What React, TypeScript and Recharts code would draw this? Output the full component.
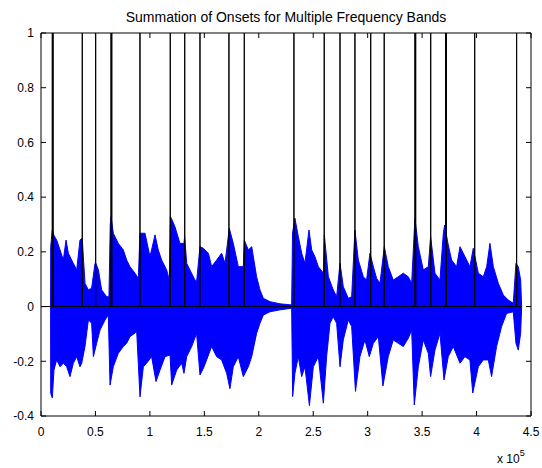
import React from 'react';
import { ComposedChart, Area, Line, XAxis, YAxis } from 'recharts';

const title = 'Summation of Onsets for Multiple Frequency Bands';
const xTicks = [0, 50000, 100000, 150000, 200000, 250000, 300000, 350000, 400000, 450000];
const yTicks = [-0.4, -0.2, 0, 0.2, 0.4, 0.6, 0.8, 1];

// onset sample positions (lines from 0 to 1)
const onsets = [10400, 11100, 37900, 50200, 64300, 65000, 90900, 118700, 132000, 146000, 172600, 186700,
  232300, 260100, 274600, 288300, 302800, 315200, 343400, 344100, 357900, 371600, 372300, 398300, 436800];
const signalEnd = 441400;

// upper envelope of the waveform [sample, amplitude]
const upperEnvelope: [number, number][] = [
  [8800, 0], [8900, 0.219], [10400, 0.28], [11900, 0.26], [14400, 0.243], [17500, 0.207], [20500, 0.17],
  [23000, 0.243], [25100, 0.195], [29700, 0.158], [32800, 0.134], [35800, 0.243], [37900, 0.25], [38900, 0.182],
  [40400, 0.085], [43500, 0.061], [46500, 0.067], [49600, 0.158], [50200, 0.16], [52700, 0.134], [55700, 0.061],
  [60300, 0.036], [62400, 0.036], [63600, 0.3], [64300, 0.329], [66400, 0.268], [71000, 0.231], [75600, 0.207],
  [78700, 0.17], [81700, 0.146], [86300, 0.122], [89400, 0.103], [90900, 0.268], [95500, 0.268], [100100, 0.182],
  [104700, 0.262], [107700, 0.207], [110800, 0.17], [115400, 0.134], [117800, 0.097], [118800, 0.329], [120000, 0.32],
  [123000, 0.292], [127600, 0.231], [131300, 0.231], [131900, 0.256], [133800, 0.158], [136800, 0.134], [141400, 0.097],
  [142900, 0.091], [146000, 0.219], [149100, 0.213], [153700, 0.195], [156700, 0.146], [161300, 0.17], [165900, 0.195],
  [169000, 0.158], [172900, 0.286], [176600, 0.231], [181200, 0.146], [185800, 0.146], [186700, 0.243], [190400, 0.207],
  [193500, 0.219], [198000, 0.109], [201100, 0.061], [204200, 0.03], [210300, 0.018], [219500, 0.01], [230200, 0.006],
  [231000, 0.268], [233200, 0.323], [236300, 0.256], [239400, 0.195], [242400, 0.158], [246100, 0.28], [248600, 0.207],
  [251600, 0.182], [254700, 0.146], [259300, 0.122], [260200, 0.262], [263900, 0.109], [268400, 0.061], [271500, 0.036],
  [274600, 0.158], [277600, 0.073], [282200, 0.03], [285300, 0.036], [288300, 0.28], [291400, 0.17], [296000, 0.109],
  [299000, 0.097], [302100, 0.195], [305200, 0.146], [308200, 0.103], [311300, 0.085], [315300, 0.219], [318900, 0.146],
  [323500, 0.097], [328100, 0.109], [332700, 0.122], [337300, 0.109], [340400, 0.085], [343400, 0.323], [346500, 0.219],
  [351100, 0.134], [355700, 0.146], [357800, 0.256], [361800, 0.122], [366400, 0.097], [369500, 0.268], [370700, 0.298],
  [374000, 0.225], [377100, 0.17], [381700, 0.146], [384800, 0.219], [387800, 0.195], [390900, 0.17], [393900, 0.146],
  [397000, 0.213], [401600, 0.122], [406200, 0.109], [409300, 0.146], [412300, 0.231], [415400, 0.146], [420000, 0.085],
  [424600, 0.042], [429100, 0.024], [433700, 0.012], [436200, 0.158], [438300, 0.146], [440500, 0.097], [441400, 0],
];

// lower envelope of the waveform [sample, amplitude]
const lowerEnvelope: [number, number][] = [
  [8800, 0], [8900, -0.317], [10400, -0.334], [11900, -0.232], [14400, -0.195], [17500, -0.22], [20500, -0.207],
  [23600, -0.22], [26600, -0.256], [29700, -0.207], [32800, -0.183], [35800, -0.22], [37400, -0.207], [40400, -0.146],
  [43500, -0.049], [46500, -0.061], [48100, -0.183], [51100, -0.134], [54200, -0.086], [58800, -0.049], [61800, -0.031],
  [63400, -0.287], [66400, -0.22], [71000, -0.171], [75600, -0.146], [78700, -0.134], [81700, -0.11], [87900, -0.092],
  [90900, -0.33], [94000, -0.22], [97000, -0.207], [101600, -0.183], [105600, -0.274], [109300, -0.232], [113900, -0.183],
  [118500, -0.177], [120000, -0.287], [124600, -0.232], [129200, -0.207], [131300, -0.244], [133800, -0.183], [138400, -0.146],
  [142900, -0.098], [146000, -0.25], [149100, -0.226], [152100, -0.195], [156700, -0.146], [161300, -0.183], [165900, -0.195],
  [170500, -0.244], [173500, -0.3], [176600, -0.22], [181200, -0.183], [185800, -0.256], [190400, -0.22], [193500, -0.183],
  [198000, -0.098], [201100, -0.061], [204200, -0.031], [210300, -0.019], [219500, -0.012], [230200, -0.006], [231100, -0.329],
  [233200, -0.244], [236300, -0.183], [239400, -0.256], [242400, -0.22], [246500, -0.362], [250100, -0.22], [254700, -0.183],
  [259300, -0.353], [262300, -0.183], [265400, -0.061], [268400, -0.037], [271500, -0.061], [274600, -0.22], [277600, -0.122],
  [282200, -0.049], [285300, -0.073], [288800, -0.31], [292900, -0.183], [297500, -0.122], [301500, -0.183], [305200, -0.134],
  [309800, -0.11], [314000, -0.29], [318900, -0.183], [323500, -0.122], [328100, -0.134], [332700, -0.146], [337300, -0.116],
  [340400, -0.086], [342800, -0.36], [346500, -0.22], [351100, -0.122], [355700, -0.171], [357800, -0.256], [361800, -0.159],
  [366400, -0.098], [370100, -0.268], [374000, -0.183], [378600, -0.146], [384800, -0.207], [389300, -0.183], [393900, -0.195],
  [396500, -0.316], [401600, -0.22], [406200, -0.195], [410800, -0.195], [413800, -0.256], [418400, -0.146], [423000, -0.073],
  [427600, -0.025], [433700, -0.019], [436200, -0.134], [438300, -0.159], [440500, -0.098], [441400, 0],
];

const upperData = upperEnvelope.map(([x, y]) => ({ x, y }));
const lowerData = lowerEnvelope.map(([x, y]) => ({ x, y }));
const onsetData = [
  { x: 0, y: 0 },
  ...onsets.flatMap((x) => [{ x, y: 0 }, { x, y: 1 }, { x, y: 0 }]),
  { x: signalEnd, y: 0 },
];

const W = 542;
const H = 468;
const FONT = '"Liberation Sans", Arial, Helvetica, sans-serif';
const BLUE = '#0000FF';

export default function App() {
  const fmtX = (v: number) => String(v / 100000);
  return (
    <div style={{ position: 'absolute', left: 0, top: 0, width: W, height: H, background: '#fff', fontFamily: FONT }}>
      <ComposedChart width={W} height={H} margin={{ top: 32, right: 10, bottom: 0, left: 0 }}>
        <XAxis
          xAxisId={0}
          type="number"
          dataKey="x"
          domain={[0, 450000]}
          ticks={xTicks}
          interval={0}
          allowDataOverflow
          tickFormatter={fmtX}
          height={52}
          tickSize={-5}
          tickMargin={16}
          stroke="#000"
          tick={{ fill: '#000', fontSize: 12, fontFamily: FONT }}
        />
        <XAxis
          xAxisId="top"
          orientation="top"
          type="number"
          dataKey="x"
          domain={[0, 450000]}
          ticks={xTicks}
          interval={0}
          allowDataOverflow
          height={1}
          tickSize={-5}
          tickFormatter={() => ''}
          stroke="#000"
        />
        <YAxis
          yAxisId={0}
          type="number"
          domain={[-0.4, 1]}
          ticks={yTicks}
          interval={0}
          allowDataOverflow
          width={41}
          tickSize={-5}
          tickMargin={12}
          stroke="#000"
          tick={{ fill: '#000', fontSize: 12, fontFamily: FONT }}
        />
        <YAxis
          yAxisId="right"
          orientation="right"
          type="number"
          domain={[-0.4, 1]}
          ticks={yTicks}
          interval={0}
          allowDataOverflow
          width={1}
          tickSize={-5}
          tickFormatter={() => ''}
          stroke="#000"
        />
        <Area
          data={upperData}
          dataKey="y"
          type="linear"
          stroke={BLUE}
          strokeWidth={1}
          fill={BLUE}
          fillOpacity={1}
          isAnimationActive={false}
          dot={false}
          activeDot={false}
        />
        <Area
          data={lowerData}
          dataKey="y"
          type="linear"
          stroke={BLUE}
          strokeWidth={1}
          fill={BLUE}
          fillOpacity={1}
          isAnimationActive={false}
          dot={false}
          activeDot={false}
        />
        <Line
          data={onsetData}
          dataKey="y"
          type="linear"
          stroke="#000"
          strokeWidth={1}
          dot={false}
          activeDot={false}
          isAnimationActive={false}
        />
        <Line
          data={onsetData}
          dataKey="y"
          xAxisId="top"
          yAxisId="right"
          type="linear"
          stroke="none"
          strokeOpacity={0}
          dot={false}
          activeDot={false}
          legendType="none"
          isAnimationActive={false}
        />
      </ComposedChart>
      <svg width={W} height={H} style={{ position: 'absolute', left: 0, top: 0, pointerEvents: 'none' }}>
        <text x={286} y={21.5} textAnchor="middle" fontSize={14} fontFamily={FONT} fill="#000">{title}</text>
        <text x={497} y={463} fontSize={12} fontFamily={FONT} fill="#000">
          x 10<tspan dy={-7} fontSize={9}>5</tspan>
        </text>
      </svg>
    </div>
  );
}
